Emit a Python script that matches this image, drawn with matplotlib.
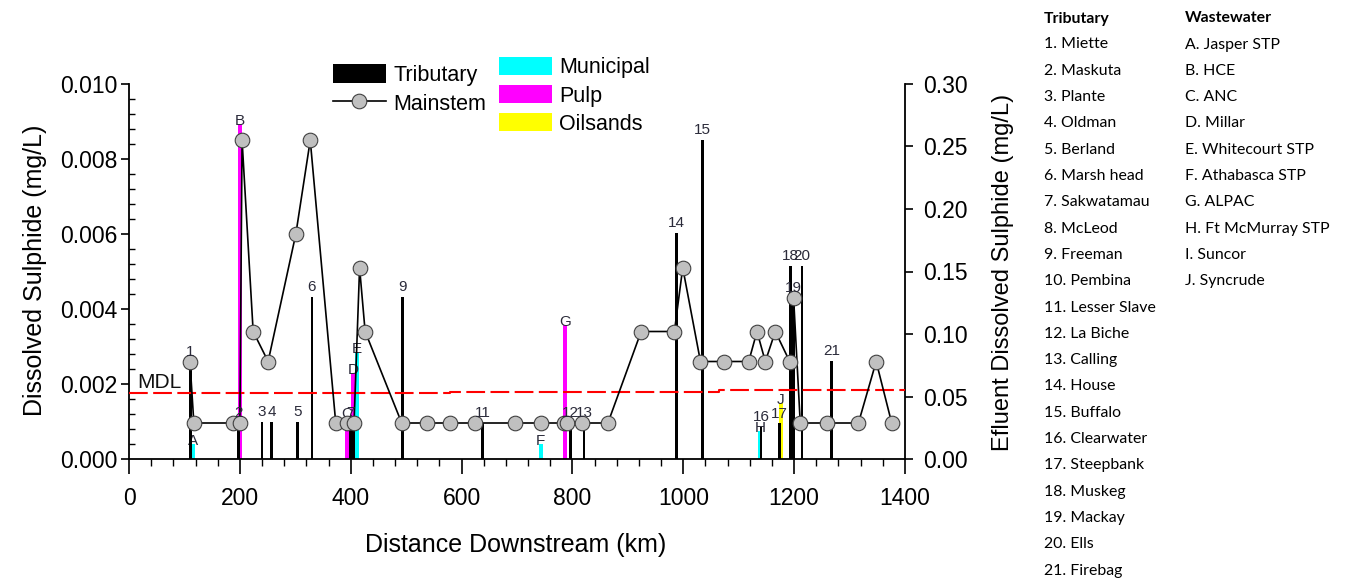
import matplotlib
matplotlib.use("Agg")
import matplotlib.pyplot as plt
from matplotlib.patches import Patch
from matplotlib.lines import Line2D
from matplotlib.ticker import MultipleLocator, FormatStrFormatter

# ---------------- data ----------------
main_km = [110, 117, 187, 200, 204, 224, 251, 301, 327, 373, 394, 406, 416, 426,
           492, 537, 580, 625, 697, 743, 784, 791, 817, 864, 924, 984, 999, 1031,
           1073, 1118, 1133, 1148, 1166, 1192, 1199, 1211, 1260, 1316, 1348, 1376]
main_val = [0.0026, 0.00096, 0.00096, 0.00096, 0.0085, 0.0034, 0.0026, 0.0060, 0.0085,
            0.00096, 0.00096, 0.00096, 0.0051, 0.0034, 0.00096, 0.00096, 0.00096,
            0.00096, 0.00096, 0.00096, 0.00096, 0.00096, 0.00096, 0.00096, 0.0034,
            0.0034, 0.0051, 0.0026, 0.0026, 0.0026, 0.0034, 0.0026, 0.0034, 0.0026,
            0.0043, 0.00096, 0.00096, 0.00096, 0.0026, 0.00096]

trib_label = ["1", "2", "3", "4", "5", "6", "7", "8", "9", "11", "12", "13",
              "14", "15", "16", "17", "18", "19", "20", "21"]
trib_km = [111, 197, 240, 257, 304, 330, 400, 405, 494, 638, 797, 821,
           988, 1034, 1140, 1173, 1193, 1199, 1214, 1268]
trib_val = [0.0026, 0.00096, 0.00098, 0.00098, 0.00098, 0.00433, 0.00096, 0.00096,
            0.00433, 0.00097, 0.00097, 0.00096, 0.00602, 0.0085, 0.00085, 0.00095,
            0.00515, 0.0043, 0.00515, 0.00262]
trib_show_label = [True, True, True, True, True, True, True, False, True, True, True,
                   True, True, True, True, True, True, True, True, True]

ww_label = ["A", "B", "C", "D", "E", "F", "G", "H", "J"]
ww_km = [116, 200, 393, 404, 411, 743, 787, 1138, 1176]
ww_val = [0.012, 0.268, 0.033, 0.0688, 0.0856, 0.012, 0.107, 0.0224, 0.0448]
ww_type = ["Municipal", "Pulp", "Pulp", "Pulp", "Municipal", "Municipal", "Pulp",
           "Municipal", "Oilsands"]
type_color = {"Municipal": "#00ffff", "Pulp": "#ff00ff", "Oilsands": "#ffff00"}

mdl_km = [0, 580, 1065, 1400]
mdl_val = [0.00175, 0.00179, 0.00183, 0.00183]

tributary_names = ["Miette", "Maskuta", "Plante", "Oldman", "Berland", "Marsh head",
                   "Sakwatamau", "McLeod", "Freeman", "Pembina", "Lesser Slave",
                   "La Biche", "Calling", "House", "Buffalo", "Clearwater",
                   "Steepbank", "Muskeg", "Mackay", "Ells", "Firebag"]
wastewater_names = ["Jasper STP", "HCE", "ANC", "Millar", "Whitecourt STP",
                    "Athabasca STP", "ALPAC", "Ft McMurray STP", "Suncor", "Syncrude"]

# ---------------- figure ----------------
plt.rcParams['font.family'] = ['Liberation Sans', 'DejaVu Sans']
W, H = 1349, 580
fig = plt.figure(figsize=(W / 100, H / 100), dpi=100)
ax_l, ax_r, ax_b, ax_t = 129, 905, 459, 84
ax1 = fig.add_axes([ax_l / W, 1 - ax_b / H, (ax_r - ax_l) / W, (ax_b - ax_t) / H])
ax2 = ax1.twinx()
ax1.set_zorder(ax2.get_zorder() + 1)
ax1.patch.set_visible(False)

# wastewater bars (right axis)
ax2.bar(ww_km, ww_val, width=7, color=[type_color[t] for t in ww_type],
        edgecolor='none', zorder=2)
# tributary bars (left axis)
ax1.bar(trib_km, trib_val, width=5, color='black', edgecolor='none', zorder=2)
# MDL
ax1.plot(mdl_km, mdl_val, drawstyle='steps-post', color='#ff0000', lw=1.5,
         dashes=[9, 2.6], zorder=3)
ax1.text(14, 0.00203, "MDL", fontsize=15, va='center', ha='left', color='#111111')
# mainstem
ax1.plot(main_km, main_val, color='black', lw=1.2, marker='o', ms=10.5,
         mfc='#c0c0c0', mec='#404040', mew=0.8, zorder=5)

# labels
lab_col = '#2b2b3a'
for lab, x, v, show in zip(trib_label, trib_km, trib_val, trib_show_label):
    if show:
        ax1.annotate(lab, (x, v), xytext=(0, 2), textcoords='offset points',
                     ha='center', va='bottom', fontsize=11, color=lab_col, zorder=6)
for lab, x, v in zip(ww_label, ww_km, ww_val):
    ax2.annotate(lab, (x, v), xytext=(0, 2.5), textcoords='offset points',
                 ha='center', va='center', fontsize=11, color=lab_col, zorder=6)

# axes formatting
ax1.set_xlim(0, 1400)
ax1.set_ylim(0, 0.010)
ax2.set_ylim(0, 0.30)
ax1.xaxis.set_major_locator(MultipleLocator(200))
ax1.xaxis.set_minor_locator(MultipleLocator(40))
ax1.yaxis.set_major_locator(MultipleLocator(0.002))
ax1.yaxis.set_minor_locator(MultipleLocator(0.0004))
ax1.yaxis.set_major_formatter(FormatStrFormatter('%.3f'))
ax2.yaxis.set_major_locator(MultipleLocator(0.05))
ax2.yaxis.set_major_formatter(FormatStrFormatter('%.2f'))

for ax in (ax1, ax2):
    ax.spines['top'].set_visible(False)
    for s in ax.spines.values():
        s.set_linewidth(1.3)
ax1.spines['right'].set_visible(False)
ax2.spines['left'].set_visible(False)
ax2.spines['bottom'].set_visible(False)

ax1.tick_params(axis='y', which='major', direction='out', length=5.5, width=1.2,
                labelsize=16.5, pad=3)
ax1.tick_params(axis='y', which='minor', direction='in', length=4.5, width=1)
ax1.tick_params(axis='x', which='major', direction='out', length=11, width=1.2,
                labelsize=16.5, pad=9)
ax1.tick_params(axis='x', which='minor', direction='out', length=5, width=1)
ax2.tick_params(axis='y', which='major', direction='out', length=6, width=1.2,
                labelsize=16.5, pad=7)

ax1.set_xlabel("Distance Downstream (km)", fontsize=18)
ax1.set_ylabel("Dissolved Sulphide (mg/L)", fontsize=18)
ax2.set_ylabel("Efluent Dissolved Sulphide (mg/L)", fontsize=17)
ax1.xaxis.set_label_coords((516 - ax_l) / (ax_r - ax_l), -(545 - ax_b) / (ax_b - ax_t))
ax1.yaxis.set_label_coords(-(ax_l - 35) / (ax_r - ax_l), (ax_b - 270) / (ax_b - ax_t))
ax2.yaxis.set_label_coords((1003 - ax_l) / (ax_r - ax_l), (ax_b - 272) / (ax_b - ax_t))
ax1.xaxis.label.set_va('center')
ax1.yaxis.label.set_va('center')
ax2.yaxis.label.set_va('center')

# legends
h1 = [Patch(facecolor='black', edgecolor='none', label='Tributary'),
      Line2D([], [], color='black', lw=1.2, marker='o', ms=10.5, mfc='#c0c0c0',
             mec='#404040', mew=0.8, label='Mainstem')]
leg1 = ax1.legend(handles=h1, loc='upper left', bbox_to_anchor=(333 / W, 1 - 64 / H),
                  bbox_transform=fig.transFigure, frameon=False, fontsize=15.5,
                  handlelength=2.45, handleheight=1.0, handletextpad=0.35,
                  labelspacing=0.32, borderpad=0, borderaxespad=0, numpoints=1)
ax1.add_artist(leg1)
h2 = [Patch(facecolor=type_color[k], edgecolor='none', label=k)
      for k in ["Municipal", "Pulp", "Oilsands"]]
ax1.legend(handles=h2, loc='upper left', bbox_to_anchor=(499 / W, 1 - 57 / H),
           bbox_transform=fig.transFigure, frameon=False, fontsize=15.5,
           handlelength=2.45, handleheight=0.9, handletextpad=0.35,
           labelspacing=0.32, borderpad=0, borderaxespad=0)

# side list
list_font = ['Lato', 'DejaVu Sans']
fs_list = 11.4
fig.text(1044 / W, 1 - 18.5 / H, "Tributary", fontsize=fs_list, fontweight='bold',
         family=list_font, va='center', ha='left')
fig.text(1185 / W, 1 - 18.5 / H, "Wastewater", fontsize=fs_list, fontweight='bold',
         family=list_font, va='center', ha='left')
for i, n in enumerate(tributary_names):
    fig.text(1044 / W, 1 - (44.5 + 26.3 * i) / H, f"{i + 1}. {n}", fontsize=fs_list,
             family=list_font, va='center', ha='left')
for i, n in enumerate(wastewater_names):
    fig.text(1185 / W, 1 - (44.5 + 26.3 * i) / H, f"{chr(65 + i)}. {n}",
             fontsize=fs_list, family=list_font, va='center', ha='left')

fig.savefig("out.png", dpi=100)
